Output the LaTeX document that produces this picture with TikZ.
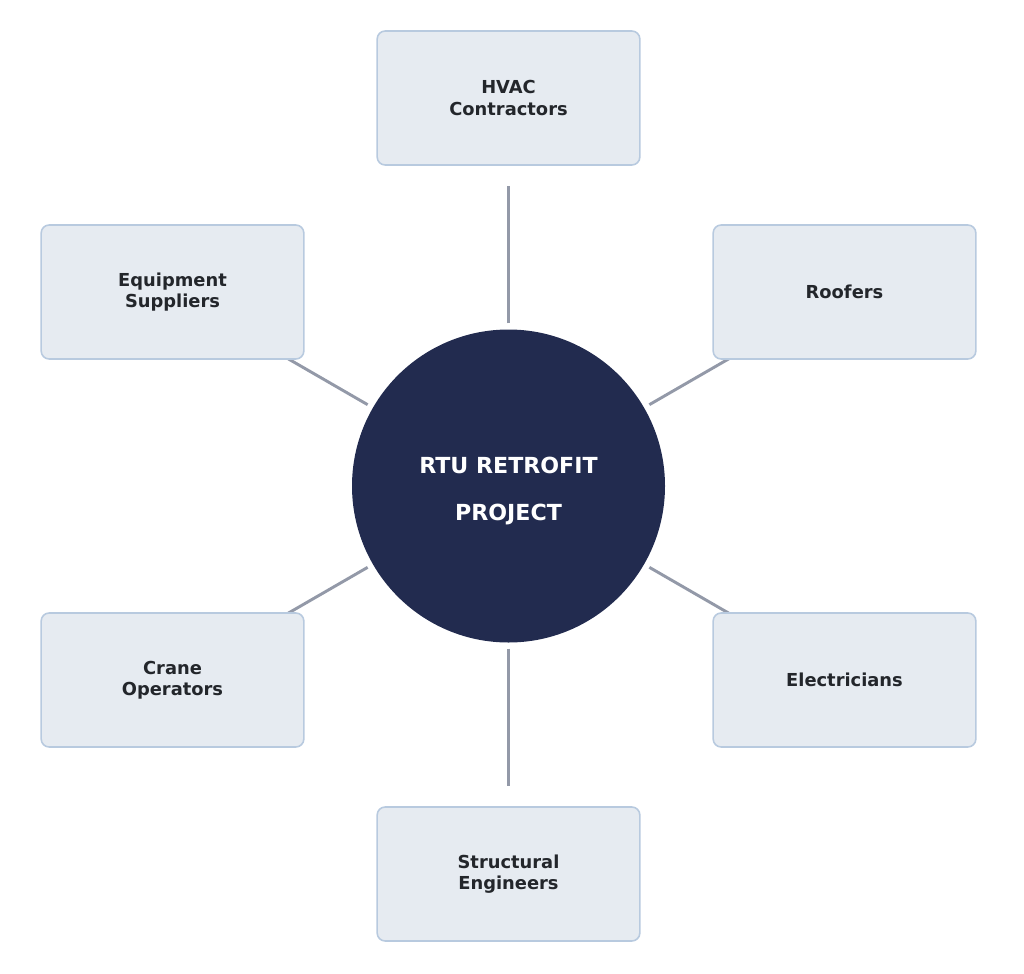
\documentclass[tikz,border=0pt]{standalone}
\usepackage{fontspec}
\setmainfont{DejaVu Sans}
\usepackage{tikz}
\usetikzlibrary{calc,backgrounds}
\definecolor{boxfill}{HTML}{E6EBF1}
\definecolor{boxline}{HTML}{B8CADF}
\definecolor{hubfill}{HTML}{222B4F}
\definecolor{linkgray}{HTML}{9399A8}
\definecolor{labeltext}{HTML}{23262B}
\begin{document}
\begin{tikzpicture}[x=0.75pt,y=-0.75pt]
        \tikzstyle{party}=[rectangle,rounded corners=6pt,fill=boxfill,draw=boxline,line width=1.2pt,minimum width=197pt,minimum height=100.5pt,align=center,text=labeltext,font=\bfseries\fontsize{13.4}{16}\selectfont]
        \tikzstyle{hub}=[circle,fill=hubfill,minimum size=234.75pt,inner sep=0pt,align=center,text=white,font=\bfseries\fontsize{16.6}{35}\selectfont]
        \tikzstyle{link}=[draw=linkgray,line width=2.2pt]
        \useasboundingbox (0,0) rectangle (1024,974);
        \node[hub] (rtu) at (508.5,486) {\rule{0pt}{19.5pt}RTU RETROFIT\\PROJECT};
        \node[party] (hvac) at (508.5,98) {HVAC\\Contractors};
        \node[party] (equip) at (172.5,292) {Equipment\\Suppliers};
        \node[party] (roof) at (844.5,292) {Roofers};
        \node[party] (crane) at (172.5,680) {Crane\\Operators};
        \node[party] (elec) at (844.5,680) {Electricians};
        \node[party] (struct) at (508.5,874) {Structural\\Engineers};
    \begin{scope}[on background layer]
        \foreach \p in {hvac,equip,roof,crane,elec,struct}
            \draw[link] ($(rtu)!122pt!(\p)$) -- ($(rtu)!225pt!(\p)$);
    \end{scope}
    \end{tikzpicture}
\end{document}
